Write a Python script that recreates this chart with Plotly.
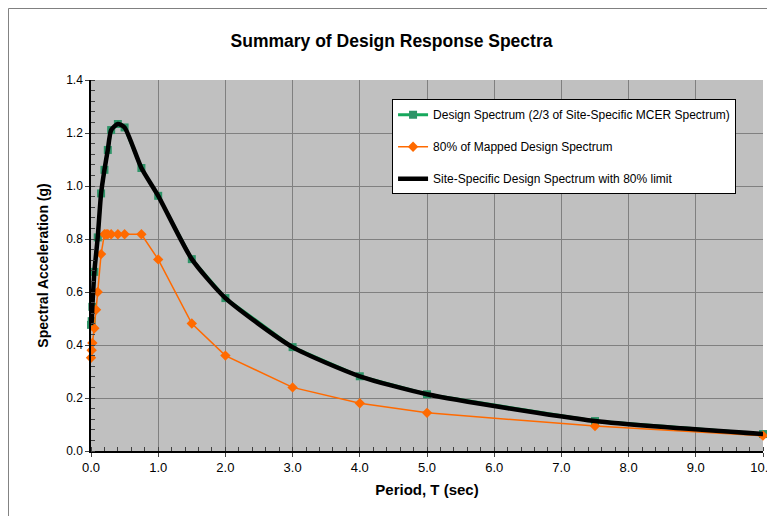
import plotly.graph_objects as go

# design spectrum (2/3 of site-specific MCER)
t_design = [0.0, 0.01, 0.02, 0.05, 0.1, 0.15, 0.2, 0.25, 0.3, 0.4, 0.5, 0.75, 1.0, 1.5, 2.0, 3.0, 4.0, 5.0, 7.5, 10.0]
sa_design = [0.476, 0.49, 0.544, 0.676, 0.806, 0.972, 1.061, 1.136, 1.211, 1.234, 1.221, 1.068, 0.963, 0.724, 0.577, 0.392, 0.282, 0.214, 0.113, 0.064]

# 80% of mapped design spectrum
t_mapped = [0.0, 0.01, 0.02, 0.05, 0.075, 0.1, 0.15, 0.2, 0.225, 0.25, 0.3, 0.4, 0.5, 0.75, 1.0, 1.5, 2.0, 3.0, 4.0, 5.0, 7.5, 10.0]
sa_mapped = [0.352, 0.38, 0.408, 0.463, 0.533, 0.60, 0.743, 0.818, 0.818, 0.818, 0.818, 0.818, 0.818, 0.818, 0.723, 0.481, 0.360, 0.240, 0.180, 0.144, 0.094, 0.058]

# site-specific with 80% limit (max of the two at the design periods)
lookup = dict(zip(t_mapped, sa_mapped))
sa_final = [max(d, lookup.get(t, 0)) for t, d in zip(t_design, sa_design)]

fig = go.Figure()
fig.add_trace(go.Scatter(
    x=t_design, y=sa_design, mode="lines+markers", name="Design Spectrum (2/3 of Site-Specific MCER Spectrum)",
    line=dict(color="#16a85c", width=3), marker=dict(symbol="square", size=8, color="#2e9468"),
    legendgroup="a", cliponaxis=False))
fig.add_trace(go.Scatter(
    x=t_mapped, y=sa_mapped, mode="lines+markers", name="80% of Mapped Design Spectrum",
    line=dict(color="#ff6a00", width=1.5), marker=dict(symbol="diamond", size=8, color="#ff6a00"),
    legendgroup="b", cliponaxis=False))
fig.add_trace(go.Scatter(
    x=t_design, y=sa_final, mode="lines", name="Site-Specific Design Spectrum with 80% limit",
    line=dict(color="black", width=4.5, shape="spline", smoothing=0.6),
    legendgroup="c", cliponaxis=False))

# page body adds ~8px offset, so the figure is laid out 8px smaller
fig.update_layout(
    width=767, height=508,
    margin=dict(l=83, r=12, t=72, b=65),
    paper_bgcolor="white", plot_bgcolor="#c0c0c0",
    font=dict(family="Liberation Sans, Arial", size=12, color="black"),
    title=dict(text="<b>Summary of Design Response Spectra</b>", x=0.5, xanchor="center",
               y=0.935, yanchor="middle", font=dict(size=17.5)),
    legend=dict(x=0.448, y=0.948, xanchor="left", yanchor="top", bgcolor="white",
                bordercolor="black", borderwidth=1, font=dict(size=12), tracegroupgap=13),
    showlegend=True,
)
fig.update_xaxes(
    range=[0, 10], dtick=1, tickformat=".1f", showgrid=True, gridcolor="#808080", gridwidth=1,
    showline=True, linecolor="black", linewidth=1.5, ticks="outside", ticklen=4, zeroline=False,
    automargin=False, ticklabeloverflow="allow", tickfont=dict(size=13),
    minor=dict(dtick=0.2, ticks="inside", ticklen=4, tickcolor="#404040", showgrid=False),
    title=dict(text="<b>Period, T (sec)</b>", font=dict(size=15), standoff=10))
fig.update_yaxes(
    range=[0, 1.4], dtick=0.2, tickformat=".1f", showgrid=True, gridcolor="#808080", gridwidth=1,
    showline=True, linecolor="black", linewidth=1.5, ticks="outside", ticklen=4, zeroline=False,
    automargin=False, tickfont=dict(size=12),
    minor=dict(dtick=0.04, ticks="inside", ticklen=4, tickcolor="#404040", showgrid=False),
    title=dict(text="<b>Spectral Acceleration (g)</b>", font=dict(size=14), standoff=14))

# chart area border
fig.add_shape(type="rect", xref="paper", yref="paper", x0=-0.1228, x1=1.5, y0=-0.5, y1=1.1927,
              line=dict(color="#808080", width=1), layer="below")

fig.write_html("out.html")
